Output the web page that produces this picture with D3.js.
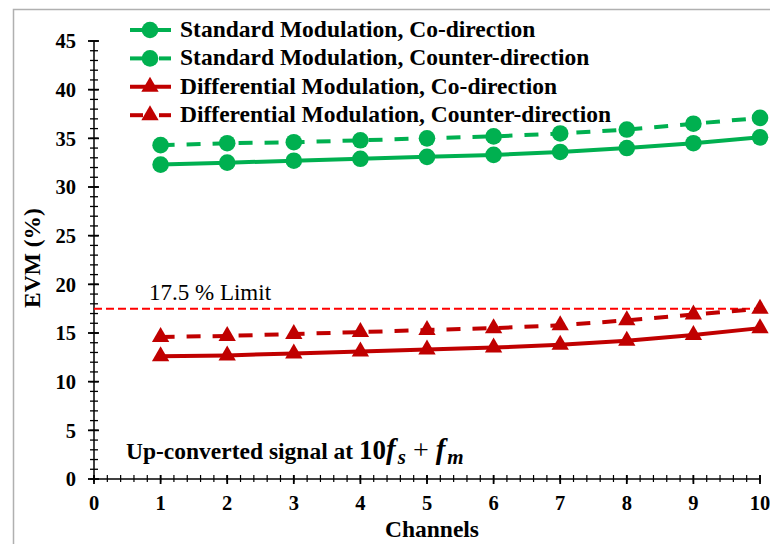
<!DOCTYPE html>
<html>
<head>
<meta charset="utf-8">
<script src="https://cdn.jsdelivr.net/npm/d3@7"></script>
<style>
  html, body { margin: 0; padding: 0; background: #fff; }
  svg { display: block; }
  text { font-family: "Liberation Serif", "Times New Roman", serif; }
</style>
</head>
<body>
<svg id="chart" width="770" height="544"></svg>
<script>
// Channel index on the x axis
const channels = [1, 2, 3, 4, 5, 6, 7, 8, 9, 10];

// EVM (%) per channel for each modulation / propagation direction
const stdCo      = [32.3, 32.5, 32.7, 32.9, 33.1, 33.3, 33.6, 34.0, 34.5, 35.1];
const stdCounter = [34.3, 34.5, 34.6, 34.8, 35.0, 35.2, 35.5, 35.9, 36.5, 37.1];
const diffCo      = [12.6, 12.7, 12.9, 13.1, 13.3, 13.5, 13.8, 14.2, 14.8, 15.5];
const diffCounter = [14.6, 14.7, 14.9, 15.1, 15.3, 15.5, 15.8, 16.3, 16.9, 17.5];

const seriesNames = [
  "Standard Modulation, Co-direction",
  "Standard Modulation, Counter-direction",
  "Differential Modulation, Co-direction",
  "Differential Modulation, Counter-direction"
];

const limitValue = 17.5;
const xTicks = [0, 1, 2, 3, 4, 5, 6, 7, 8, 9, 10];
const yTicks = [0, 5, 10, 15, 20, 25, 30, 35, 40, 45];

const GREEN = "#00b050", RED = "#c00000";
const series = [
  { name: seriesNames[0], values: stdCo,       color: GREEN, dashed: false, marker: "circle" },
  { name: seriesNames[1], values: stdCounter,  color: GREEN, dashed: true,  marker: "circle" },
  { name: seriesNames[2], values: diffCo,      color: RED,   dashed: false, marker: "triangle" },
  { name: seriesNames[3], values: diffCounter, color: RED,   dashed: true,  marker: "triangle" }
];

const svg = d3.select("#chart");

// outer frame
svg.append("rect")
  .attr("x", 13.5).attr("y", 9.5).attr("width", 800).attr("height", 600)
  .attr("fill", "none").attr("stroke", "#b0b0b0").attr("stroke-width", 1.5);

const x = d3.scaleLinear().domain([0, 10]).range([94, 760]);
const y = d3.scaleLinear().domain([0, 45]).range([479, 41]);

// y axis: line plus crossing major/minor ticks
const gy = svg.append("g");
gy.append("line").attr("x1", x(0)).attr("x2", x(0)).attr("y1", y(0)).attr("y2", y(45))
  .attr("stroke", "#000").attr("stroke-width", 1.5);
gy.selectAll("line.minor").data(d3.range(0, 46, 1)).join("line")
  .attr("class", "minor")
  .attr("x1", x(0) - 4).attr("x2", x(0) + 4)
  .attr("y1", d => y(d)).attr("y2", d => y(d))
  .attr("stroke", "#000").attr("stroke-width", 1.3);
gy.selectAll("line.major").data(yTicks).join("line")
  .attr("class", "major")
  .attr("x1", x(0) - 6).attr("x2", x(0) + 5)
  .attr("y1", d => y(d)).attr("y2", d => y(d))
  .attr("stroke", "#000").attr("stroke-width", 1.8);
gy.selectAll("text").data(yTicks).join("text")
  .attr("x", 76).attr("y", d => y(d)).attr("dy", "0.35em")
  .attr("text-anchor", "end")
  .attr("font-size", 20.5).attr("font-weight", "bold")
  .text(d => d);

// x axis
const gx = svg.append("g");
gx.append("line").attr("x1", x(0)).attr("x2", x(10)).attr("y1", y(0)).attr("y2", y(0))
  .attr("stroke", "#000").attr("stroke-width", 1.5);
gx.selectAll("line.minor").data(d3.range(0, 51).map(i => i / 5)).join("line")
  .attr("class", "minor")
  .attr("x1", d => x(d)).attr("x2", d => x(d))
  .attr("y1", y(0) - 4).attr("y2", y(0) + 3)
  .attr("stroke", "#000").attr("stroke-width", 1.2);
gx.selectAll("line.major").data(xTicks).join("line")
  .attr("class", "major")
  .attr("x1", d => x(d)).attr("x2", d => x(d))
  .attr("y1", y(0) - 4).attr("y2", y(0) + 5)
  .attr("stroke", "#000").attr("stroke-width", 1.8);
gx.selectAll("text").data(xTicks).join("text")
  .attr("x", d => x(d)).attr("y", 510)
  .attr("text-anchor", "middle")
  .attr("font-size", 20.5).attr("font-weight", "bold")
  .text(d => d);

// axis titles
svg.append("text")
  .attr("transform", `translate(40,258) rotate(-90)`)
  .attr("text-anchor", "middle")
  .attr("font-size", 23.5).attr("font-weight", "bold")
  .text("EVM (%)");
svg.append("text")
  .attr("x", 432).attr("y", 537)
  .attr("text-anchor", "middle")
  .attr("font-size", 23.5).attr("font-weight", "bold")
  .text("Channels");

// 17.5 % limit
svg.append("line")
  .attr("x1", x(0)).attr("x2", x(10))
  .attr("y1", y(limitValue)).attr("y2", y(limitValue))
  .attr("stroke", "#ff0000").attr("stroke-width", 2)
  .attr("stroke-dasharray", "8,4");
svg.append("text")
  .attr("x", 149).attr("y", 300)
  .attr("font-size", 23)
  .text("17.5 % Limit");

// markers
const triPath = d3.symbol().type(d3.symbolTriangle).size(130);
function drawMarker(g, s, cx, cy) {
  if (s.marker === "circle") {
    g.append("circle").attr("cx", cx).attr("cy", cy).attr("r", 8.3).attr("fill", s.color);
  } else {
    g.append("path").attr("d", triPath()).attr("transform", `translate(${cx},${cy})`)
      .attr("fill", s.color);
  }
}

const line = d3.line().x((d, i) => x(channels[i])).y(d => y(d));
series.forEach(s => {
  const g = svg.append("g");
  g.append("path")
    .attr("d", line(s.values))
    .attr("fill", "none")
    .attr("stroke", s.color)
    .attr("stroke-width", 4)
    .attr("stroke-dasharray", s.dashed ? "14,12" : null);
  s.values.forEach((v, i) => drawMarker(g, s, x(channels[i]), y(v)));
});

// legend
const legend = svg.append("g");
series.forEach((s, i) => {
  const ly = 30 + i * 28.4;
  const g = legend.append("g");
  if (s.dashed) {
    g.append("line").attr("x1", 130).attr("x2", 143).attr("y1", ly).attr("y2", ly)
      .attr("stroke", s.color).attr("stroke-width", 4);
    g.append("line").attr("x1", 159).attr("x2", 171).attr("y1", ly).attr("y2", ly)
      .attr("stroke", s.color).attr("stroke-width", 4);
  } else {
    g.append("line").attr("x1", 130).attr("x2", 171).attr("y1", ly).attr("y2", ly)
      .attr("stroke", s.color).attr("stroke-width", 4);
  }
  drawMarker(g, s, 150, ly);
  g.append("text")
    .attr("x", 180).attr("y", ly + 7)
    .attr("font-size", 23.5).attr("font-weight", "bold")
    .text(s.name);
});

// annotation with the up-converted frequency 10 f_s + f_m
const note = svg.append("text")
  .attr("x", 126).attr("y", 459)
  .attr("font-size", 23.5).attr("font-weight", "bold");
note.append("tspan").text("Up-converted signal at ");
note.append("tspan").attr("font-size", 27).text("10");
note.append("tspan").attr("font-style", "italic").attr("font-size", 29).text("f");
note.append("tspan").attr("font-style", "italic").attr("font-size", 21).attr("dy", 5).attr("dx", 2).text("s");
note.append("tspan").attr("dy", -5).attr("font-weight", "normal").attr("font-size", 28).text(" + ");
note.append("tspan").attr("font-style", "italic").attr("font-size", 29).text("f");
note.append("tspan").attr("font-style", "italic").attr("font-size", 21).attr("dy", 5).attr("dx", 2).text("m");
</script>
</body>
</html>
